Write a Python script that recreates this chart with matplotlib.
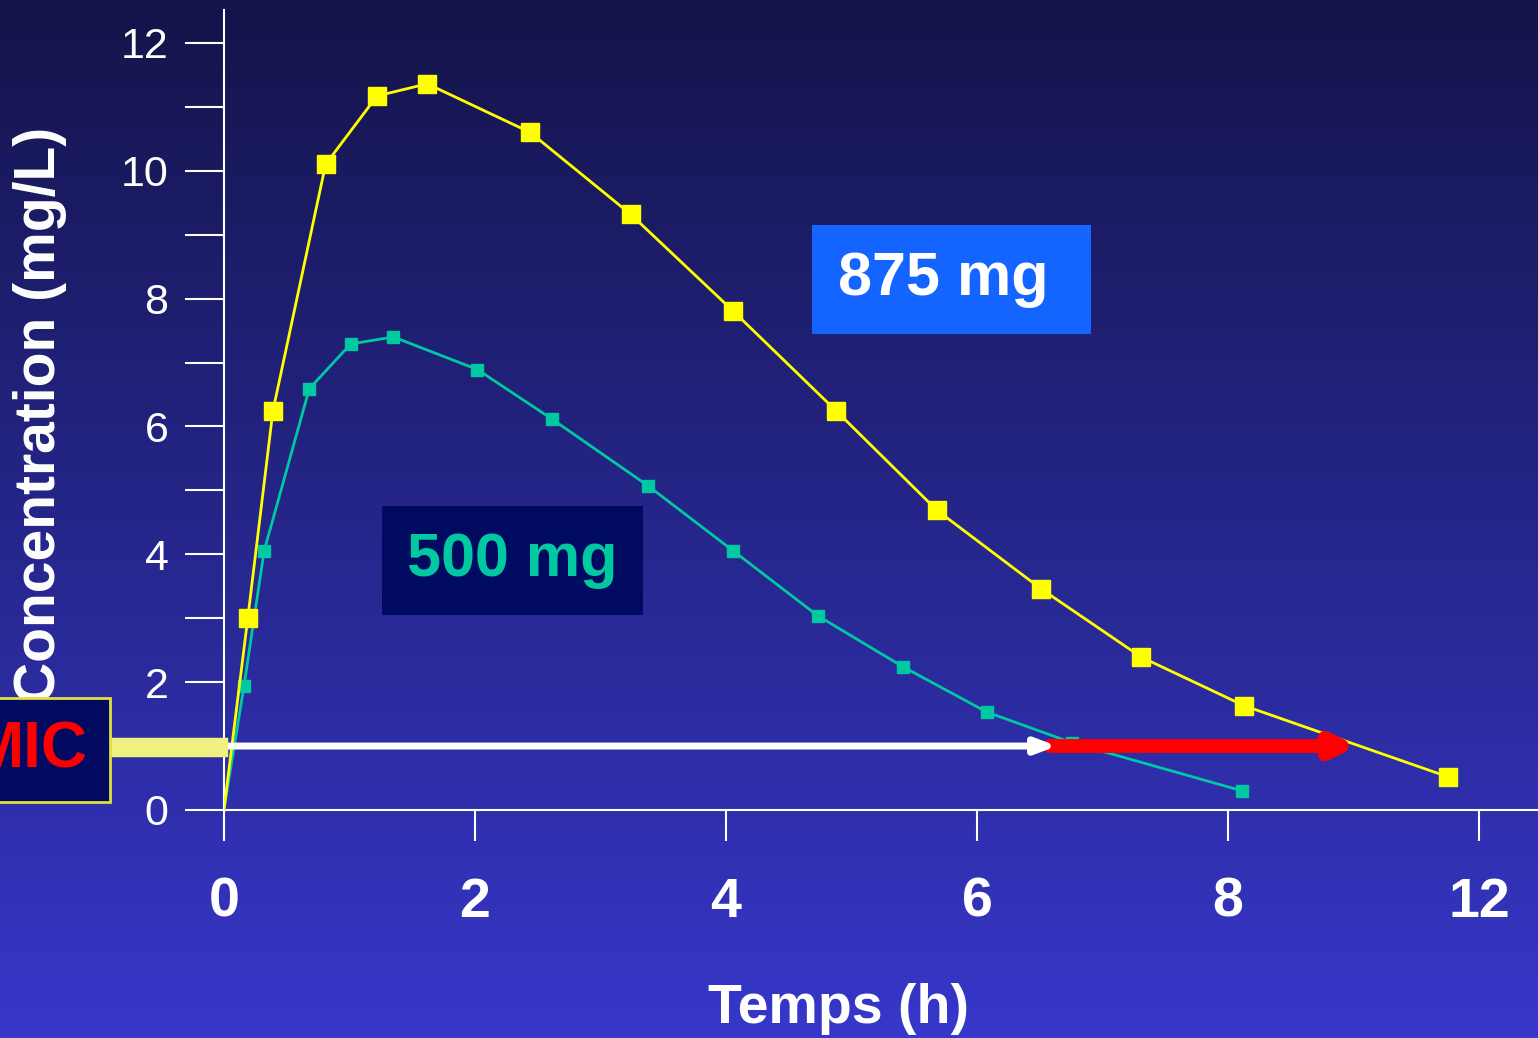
import matplotlib
matplotlib.use("Agg")
import matplotlib.pyplot as plt
import numpy as np
from matplotlib.colors import LinearSegmentedColormap

plt.rcParams['font.family'] = ['Liberation Sans', 'DejaVu Sans']

# data (x in axis position units; last tick labelled "12" sits at position 10)
t875 = [0, 0.19, 0.39, 0.81, 1.22, 1.62, 2.44, 3.24, 4.06, 4.88, 5.68, 6.51, 7.31, 8.13, 9.75]
c875 = [0, 3.0, 6.24, 10.1, 11.17, 11.36, 10.6, 9.32, 7.8, 6.24, 4.69, 3.46, 2.39, 1.63, 0.52]
t500 = [0, 0.16, 0.32, 0.68, 1.01, 1.35, 2.02, 2.61, 3.38, 4.06, 4.73, 5.41, 6.08, 6.76, 8.11]
c500 = [0, 1.94, 4.05, 6.59, 7.29, 7.40, 6.89, 6.12, 5.07, 4.05, 3.04, 2.24, 1.53, 1.05, 0.30]
xtick_pos = [0, 2, 4, 6, 8, 10]
xtick_lab = ["0", "2", "4", "6", "8", "12"]
mic = 1.0
mic_500_end = 6.66
mic_875_end = 9.05

fig = plt.figure(figsize=(15.38, 10.38), dpi=100)
bg = fig.add_axes([0, 0, 1, 1], zorder=-10)
grad = np.linspace(0, 1, 256).reshape(-1, 1)
cmap = LinearSegmentedColormap.from_list("bg", ["#14144a", "#3737ca"])
bg.imshow(grad, aspect="auto", cmap=cmap, extent=[0, 1, 0, 1], origin="upper")
bg.axis("off")

ax = fig.add_axes([0.1456, 0.2197, 0.8544, 0.771])
ax.patch.set_alpha(0)
ax.set_xlim(0, 10.47)
ax.set_ylim(0, 12.52)
for s in ["top", "right"]:
    ax.spines[s].set_visible(False)
for s in ["left", "bottom"]:
    ax.spines[s].set_color("white")
    ax.spines[s].set_linewidth(1.5)

ax.plot(t875, c875, color="#ffff00", lw=2, marker="s", ms=13, markevery=list(range(1, len(t875))), zorder=4)
ax.plot(t500, c500, color="#00c8a0", lw=2, marker="s", ms=9, markevery=list(range(1, len(t500))), zorder=3)

ax.annotate("", xy=(mic_875_end, mic), xytext=(mic_500_end - 0.1, mic),
            arrowprops=dict(arrowstyle="-|>,head_length=1.2,head_width=0.6", color="red", lw=10), zorder=5)
ax.annotate("", xy=(mic_500_end, mic), xytext=(0, mic),
            arrowprops=dict(arrowstyle="-|>,head_length=1.2,head_width=0.45", color="white", lw=5), zorder=6)

ax.set_xticks(xtick_pos)
ax.set_xticklabels(xtick_lab, fontsize=40, fontweight="bold", color="white")
ax.set_yticks(range(0, 13, 2))
ax.set_yticks(range(1, 13, 2), minor=True)
ax.tick_params(axis="y", which="both", direction="out", length=28, width=1.5, colors="white", labelsize=31, pad=12)
ax.tick_params(axis="x", direction="out", length=22, width=1.5, colors="white", pad=26)

fig.text(0.545, 0.028, "Temps (h)", fontsize=40, fontweight="bold", color="white", ha="center", va="center")
fig.text(0.026, 0.60, "Concentration (mg/L)", fontsize=41, fontweight="bold", color="white",
         rotation=90, ha="center", va="center")

ax.text(5.8, 8.3, "875 mg ", fontsize=44, fontweight="bold", color="white", ha="center", va="center",
        bbox=dict(boxstyle="square,pad=0.42", fc="#1464ff", ec="none"), zorder=7)
ax.text(2.3, 3.9, "500 mg", fontsize=44, fontweight="bold", color="#00c8a0", ha="center", va="center",
        bbox=dict(boxstyle="square,pad=0.42", fc="#000a60", ec="none"), zorder=7)

# MIC label at left, partly off the figure as in the slide
fig.add_artist(plt.Line2D([108 / 1538, 218 / 1538], [1 - 747 / 1038] * 2, color="#f0f080", lw=14))
fig.text(0.057, 1 - 750 / 1038, "MIC", fontsize=46, fontweight="bold", color="red", ha="right", va="center",
         bbox=dict(boxstyle="square,pad=0.35", fc="#000a60", ec="#e0e040", lw=2), zorder=10)

fig.savefig("out.png", dpi=100)
